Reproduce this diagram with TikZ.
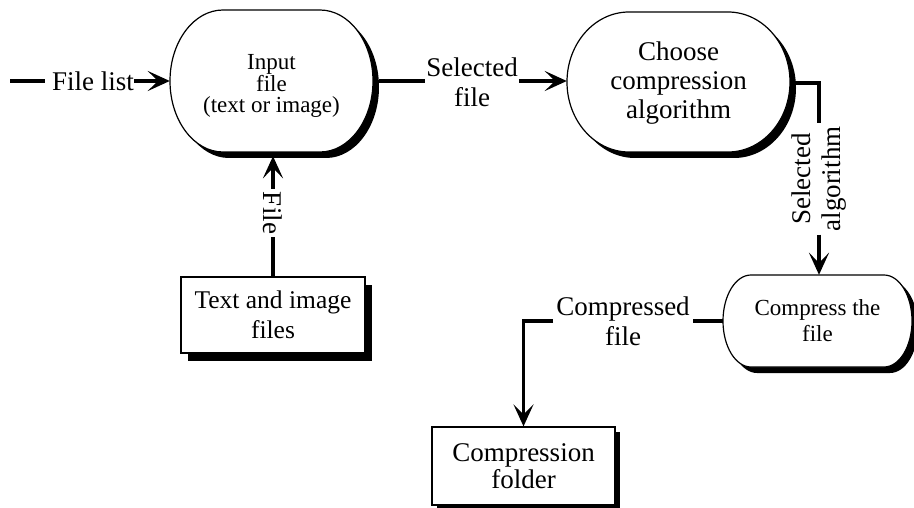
\documentclass[tikz,border=0pt]{standalone}
\usepackage{fontspec}
\setmainfont{Liberation Serif}
\usetikzlibrary{arrows.meta}
\tikzset{
  shapeline/.style={line width=1.2pt},
  flow/.style={line width=3.2pt,-{Stealth[length=22pt,width=20pt,inset=10pt]}},
  plain/.style={line width=3.2pt},
  anchorbox/.style={draw=none,inner sep=0pt,align=center},
  edgelabel/.style={inner sep=3pt,align=center,font=\fontsize{27}{30}\selectfont},
  boxnode/.style={draw,shapeline,fill=white,inner sep=0pt,align=center},
}
% cx, cy, half width, half height, rx, ry
\newcommand\stadiumshape[6]{%
  \fill[black,shift={(6,-6)}] ({#1-#3+#5},{#2-#4}) -- ({#1+#3-#5},{#2-#4})
    arc[start angle=-90,end angle=0,x radius=#5pt,y radius=#6pt] -- ({#1+#3},{#2+#4-#6})
    arc[start angle=0,end angle=90,x radius=#5pt,y radius=#6pt] -- ({#1-#3+#5},{#2+#4})
    arc[start angle=90,end angle=180,x radius=#5pt,y radius=#6pt] -- ({#1-#3},{#2-#4+#6})
    arc[start angle=180,end angle=270,x radius=#5pt,y radius=#6pt] -- cycle;
  \draw[shapeline,fill=white] ({#1-#3+#5},{#2-#4}) -- ({#1+#3-#5},{#2-#4})
    arc[start angle=-90,end angle=0,x radius=#5pt,y radius=#6pt] -- ({#1+#3},{#2+#4-#6})
    arc[start angle=0,end angle=90,x radius=#5pt,y radius=#6pt] -- ({#1-#3+#5},{#2+#4})
    arc[start angle=90,end angle=180,x radius=#5pt,y radius=#6pt] -- ({#1-#3},{#2-#4+#6})
    arc[start angle=180,end angle=270,x radius=#5pt,y radius=#6pt] -- cycle;
}
\begin{document}
\begin{tikzpicture}[x=1pt,y=1pt]
\clip (0,0) rectangle (914,-508);
\useasboundingbox (0,0) rectangle (914,-508);

% process shapes
\stadiumshape{271.5}{-81}{101.5}{71}{53}{71}
\stadiumshape{678.5}{-82}{111.5}{70}{62}{70}
\stadiumshape{817.5}{-321}{94.5}{46}{28}{46}

\node[anchorbox,minimum width=203pt,minimum height=142pt] (in) at (271.5,-81) {};
\node[anchorbox,font=\fontsize{23}{21}\selectfont] (intext) at (271.5,-86) {Input\\file\\(text or image)};
\node[anchorbox,minimum width=223pt,minimum height=140pt,font=\fontsize{27}{29}\selectfont]
  (ch) at (678.5,-83) {Choose\\compression\\algorithm};
\node[anchorbox,minimum width=189pt,minimum height=92pt,font=\fontsize{23}{26}\selectfont]
  (cm) at (817.5,-321) {Compress the\\file};

% stores
\fill[black] (188,-285) rectangle (372,-361);
\node[boxnode,minimum width=184pt,minimum height=76pt,font=\fontsize{25.5}{30}\selectfont]
  (tb) at (273,-315) {Text and image\\files};
\fill[black] (437,-432) rectangle (620,-510);
\node[boxnode,minimum width=183pt,minimum height=78pt,font=\fontsize{27}{27}\selectfont]
  (cf) at (523.5,-466) {Compression\\folder};

% File list
\coordinate (flstart) at (10,-81);
\node[edgelabel,inner sep=0pt] (fl) at (93,-81) {File list};
\draw[plain] (flstart) -- ([xshift=-7pt]fl.west);
\draw[flow] (fl.east) -- (in.west);

% Selected file
\node[edgelabel,inner sep=0pt] (sf) at (472,-82) {Selected\\file};
\draw[plain] ([xshift=6pt]in.east) -- ([xshift=-1pt]sf.west |- in.east);
\draw[flow] ([xshift=1pt]sf.east |- in.east) -- (ch.west |- in.east);

% File (upwards)
\node[edgelabel,rotate=-90] (fi) at (273,-213) {File};
\draw[plain] (tb.north) -- (fi.east);
\draw[flow] (fi.west) -- ([yshift=-4pt]fi.west |- in.south);

% Selected algorithm
\node[edgelabel,rotate=90] (sa) at (819,-179) {Selected\\algorithm};
\draw[plain] (ch.east) -| (sa.east);
\draw[flow] (sa.west) -- (sa.west |- cm.north);

% Compressed file
\node[edgelabel] (cfl) at (623,-321) {Compressed\\file};
\draw[plain] (cm.west) -- (cfl.east |- cm.west);
\draw[flow] (cfl.west |- cm.west) -| (cf.north);
\end{tikzpicture}
\end{document}
